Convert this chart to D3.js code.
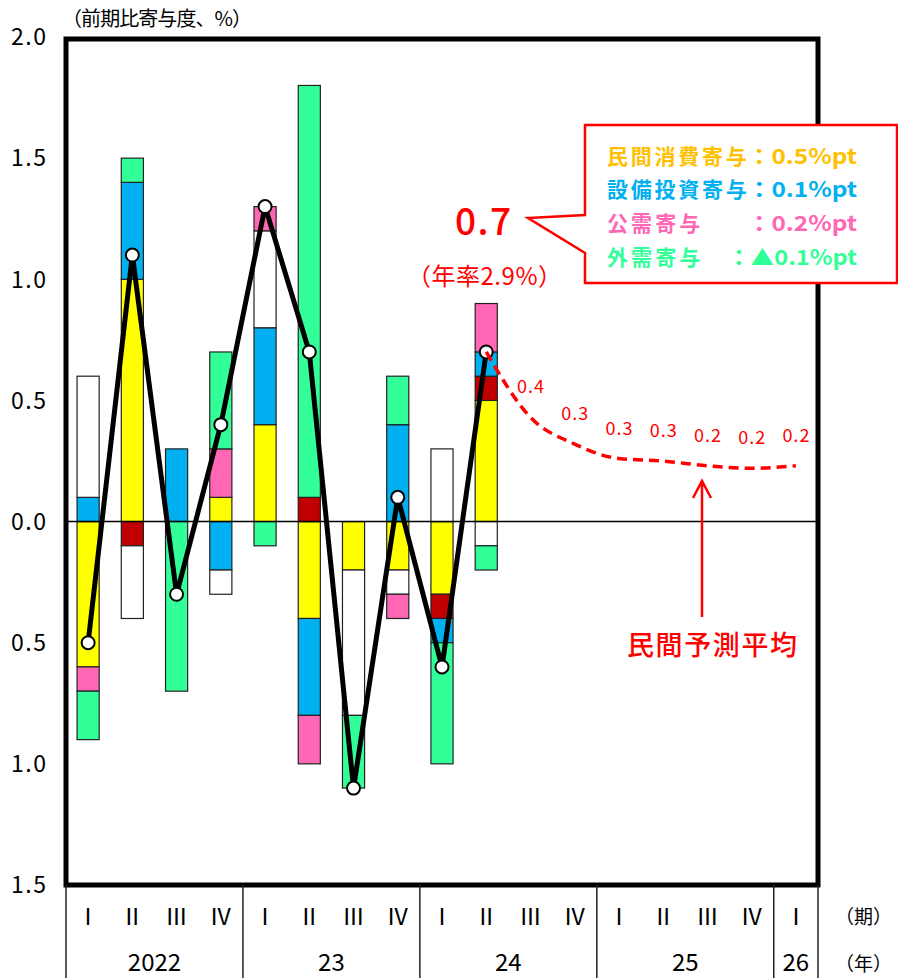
<!DOCTYPE html>
<html>
<head>
<meta charset="utf-8">
<script src="https://cdn.jsdelivr.net/npm/d3@7"></script>
<style>
  body { margin: 0; background: #fff; }
  svg { display: block; }
  text { font-family: "Noto Sans CJK JP", "Noto Sans", sans-serif; }
</style>
</head>
<body>
<svg id="chart" width="898" height="978"></svg>
<script>
// ---- data ----
const quarterLabels = ["Ⅰ","Ⅱ","Ⅲ","Ⅳ","Ⅰ","Ⅱ","Ⅲ","Ⅳ","Ⅰ","Ⅱ","Ⅲ","Ⅳ","Ⅰ","Ⅱ","Ⅲ","Ⅳ","Ⅰ"];
const yearLabels = ["2022", "23", "24", "25", "26"];
const yearSpans = [4, 4, 4, 4, 1];
const yTicks = [2.0, 1.5, 1.0, 0.5, 0.0, -0.5, -1.0, -1.5];

// contributions to q/q real GDP growth, 2022 Q1 – 2024 Q2 (percentage points)
const consumption = [-0.6, 1.0, 0.0, 0.1, 0.4, -0.4, -0.2, -0.2, -0.3, 0.5];
const housing     = [ 0.0, -0.1, 0.0, 0.0, 0.0, 0.1, 0.0, 0.0, -0.1, 0.1];
const capex       = [ 0.1, 0.4, 0.3, -0.2, 0.4, -0.4, 0.0, 0.4, -0.1, 0.1];
const inventory   = [ 0.5, -0.3, 0.0, -0.1, 0.4, 0.0, -0.6, -0.1, 0.3, -0.1];
const publicDem   = [-0.1, 0.0, 0.0, 0.2, 0.1, -0.2, 0.0, -0.1, 0.0, 0.2];
const netExports  = [-0.2, 0.1, -0.7, 0.4, -0.1, 1.7, -0.3, 0.2, -0.5, -0.1];
const gdp         = [-0.5, 1.1, -0.3, 0.4, 1.3, 0.7, -1.1, 0.1, -0.6, 0.7];

// private-sector consensus forecast, 2024 Q3 – 2026 Q1
const forecast = [0.43, 0.32, 0.26, 0.25, 0.23, 0.22, 0.23];

// latest quarter breakdown shown in the callout
const calloutLabels = ["民間消費寄与", "設備投資寄与", "公需寄与", "外需寄与"];
const calloutValues = [0.5, 0.1, 0.2, -0.1];
const latestGrowth = 0.7;
const latestAnnualized = 2.9;

// ---- styles ----
const components = [
  { values: consumption, fill: "#FFFF00" },
  { values: housing,     fill: "#C00000" },
  { values: capex,       fill: "#00B0F0" },
  { values: inventory,   fill: "#FFFFFF" },
  { values: publicDem,   fill: "#FF66B3" },
  { values: netExports,  fill: "#33FF99" }
];
const calloutColors = ["#FFC000", "#00B0F0", "#FF66B3", "#33FF99"];
const RED = "#FF0000";

// ---- layout ----
const svg = d3.select("#chart");
const plotL = 66, plotR = 818, plotT = 37, plotB = 885;

const x = d3.scaleBand()
  .domain(d3.range(quarterLabels.length))
  .range([plotL, plotR])
  .paddingInner(0.5)
  .paddingOuter(0.25);
const step = x.step();
const cx = i => x(i) + x.bandwidth() / 2;

const y = d3.scaleLinear().domain([-1.5, 2.0]).range([plotB, plotT]);

// ---- stacked bars ----
const segments = [];
gdp.forEach((_, q) => {
  let pos = 0, neg = 0;
  components.forEach(c => {
    const v = c.values[q];
    if (v > 0) { segments.push({ q, y0: pos, y1: pos + v, fill: c.fill }); pos += v; }
    else if (v < 0) { segments.push({ q, y0: neg + v, y1: neg, fill: c.fill }); neg += v; }
  });
});

svg.append("g").selectAll("rect").data(segments).join("rect")
  .attr("x", d => x(d.q))
  .attr("width", x.bandwidth())
  .attr("y", d => y(d.y1))
  .attr("height", d => y(d.y0) - y(d.y1))
  .attr("fill", d => d.fill)
  .attr("stroke", "#222")
  .attr("stroke-width", 1.2);

// zero line
svg.append("line")
  .attr("x1", plotL).attr("x2", plotR)
  .attr("y1", y(0)).attr("y2", y(0))
  .attr("stroke", "#000").attr("stroke-width", 1.5);

// ---- GDP growth line ----
svg.append("path")
  .datum(gdp)
  .attr("fill", "none")
  .attr("stroke", "#000")
  .attr("stroke-width", 5)
  .attr("stroke-linejoin", "miter")
  .attr("d", d3.line().x((d, i) => cx(i)).y(d => y(d)));

svg.append("g").selectAll("circle").data(gdp).join("circle")
  .attr("cx", (d, i) => cx(i))
  .attr("cy", d => y(d))
  .attr("r", 6.5)
  .attr("fill", "#fff")
  .attr("stroke", "#000")
  .attr("stroke-width", 2);

// ---- forecast (dashed) ----
const lastIdx = gdp.length - 1;
const fcPoints = [{ i: lastIdx, v: gdp[lastIdx] }]
  .concat(forecast.map((v, k) => ({ i: lastIdx + 1 + k, v })));

svg.append("path")
  .datum(fcPoints)
  .attr("fill", "none")
  .attr("stroke", RED)
  .attr("stroke-width", 3.5)
  .attr("stroke-dasharray", "10,6")
  .attr("d", d3.line().x(d => cx(d.i)).y(d => y(d.v)).curve(d3.curveMonotoneX));

svg.append("g").selectAll("text").data(fcPoints.slice(1)).join("text")
  .attr("x", d => cx(d.i))
  .attr("y", d => y(d.v) - 24)
  .attr("text-anchor", "middle")
  .attr("font-size", 18)
  .attr("fill", RED)
  .attr("textLength", 27)
  .attr("lengthAdjust", "spacing")
  .text(d => d.v.toFixed(1));

// forecast annotation arrow and caption
svg.append("path")
  .attr("d", "M702,617 V482 M693,498 L702,481 L711,498")
  .attr("fill", "none")
  .attr("stroke", RED)
  .attr("stroke-width", 2.5);

svg.append("text")
  .attr("x", 627).attr("y", 655)
  .attr("font-size", 27)
  .attr("font-weight", 500)
  .attr("fill", RED)
  .attr("textLength", 170)
  .attr("lengthAdjust", "spacing")
  .text("民間予測平均");

// ---- plot frame ----
svg.append("rect")
  .attr("x", plotL).attr("y", plotT + 2)
  .attr("width", plotR - plotL).attr("height", plotB - plotT - 2)
  .attr("fill", "none")
  .attr("stroke", "#000")
  .attr("stroke-width", 5);

// ---- y axis labels ----
svg.append("g").selectAll("text").data(yTicks).join("text")
  .attr("x", 46)
  .attr("y", d => y(d))
  .attr("dy", "0.36em")
  .attr("text-anchor", "end")
  .attr("font-size", 23)
  .attr("fill", "#000")
  .attr("textLength", 35)
  .attr("lengthAdjust", "spacing")
  .text(d => Math.abs(d).toFixed(1));

svg.append("text")
  .attr("x", 62).attr("y", 26)
  .attr("font-size", 20)
  .attr("fill", "#000")
  .attr("textLength", 190)
  .attr("lengthAdjust", "spacing")
  .text("（前期比寄与度、%）");

// ---- category axis ----
const bounds = [0];
yearSpans.forEach(n => bounds.push(bounds[bounds.length - 1] + n));

svg.append("g").selectAll("line").data(bounds).join("line")
  .attr("x1", d => plotL + d * step).attr("x2", d => plotL + d * step)
  .attr("y1", plotB).attr("y2", 978)
  .attr("stroke", "#222").attr("stroke-width", 1.5);

svg.append("g").selectAll("text").data(quarterLabels).join("text")
  .attr("x", (d, i) => cx(i))
  .attr("y", 917)
  .attr("dy", "0.36em")
  .attr("text-anchor", "middle")
  .attr("font-size", 23)
  .attr("fill", "#000")
  .text(d => d);

svg.append("g").selectAll("text").data(yearLabels).join("text")
  .attr("x", (d, k) => plotL + (bounds[k] + bounds[k + 1]) / 2 * step)
  .attr("y", 971)
  .attr("text-anchor", "middle")
  .attr("font-size", 24)
  .attr("fill", "#000")
  .text(d => d);

svg.append("text").attr("x", 835).attr("y", 917).attr("dy", "0.36em")
  .attr("font-size", 19).attr("fill", "#000").text("（期）");
svg.append("text").attr("x", 835).attr("y", 964).attr("dy", "0.36em")
  .attr("font-size", 19).attr("fill", "#000").text("（年）");

// ---- callout for the latest quarter ----
svg.append("path")
  .attr("d", "M585,125 H897 V283 H585 V253 L528,218 L585,215 Z")
  .attr("fill", "#fff")
  .attr("stroke", RED)
  .attr("stroke-width", 2.5);

svg.append("text")
  .attr("x", 483).attr("y", 235)
  .attr("text-anchor", "middle")
  .attr("font-size", 37)
  .attr("font-weight", 500)
  .attr("fill", RED)
  .attr("textLength", 56)
  .attr("lengthAdjust", "spacing")
  .text(latestGrowth.toFixed(1));

svg.append("text")
  .attr("x", 407).attr("y", 285)
  .attr("font-size", 24)
  .attr("fill", RED)
  .attr("textLength", 155)
  .attr("lengthAdjust", "spacing")
  .text(`（年率${latestAnnualized.toFixed(1)}%）`);

const rowY = [164, 197, 231, 265];
const rows = svg.append("g").attr("font-weight", "bold").attr("font-size", 21);
calloutLabels.forEach((lab, k) => {
  rows.append("text")
    .attr("x", 607).attr("y", rowY[k])
    .attr("fill", calloutColors[k])
    .attr("textLength", lab.length * 23.3)
    .attr("lengthAdjust", "spacing")
    .text(lab);
  const v = calloutValues[k];
  const valStr = "：" + (v < 0 ? "▲" : "") + Math.abs(v).toFixed(1) + "%pt";
  rows.append("text")
    .attr("x", 857).attr("y", rowY[k])
    .attr("text-anchor", "end")
    .attr("fill", calloutColors[k])
    .attr("textLength", v < 0 ? 130 : 110)
    .attr("lengthAdjust", "spacingAndGlyphs")
    .text(valStr);
});
</script>
</body>
</html>
